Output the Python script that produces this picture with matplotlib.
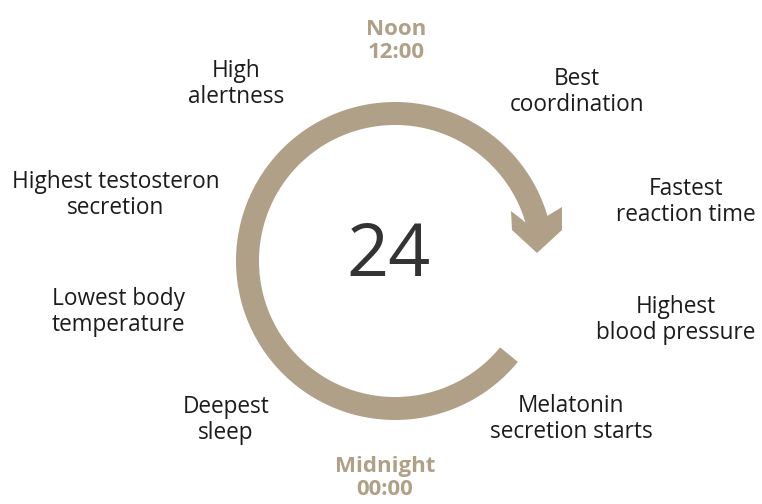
import numpy as np
import matplotlib
matplotlib.use("Agg")
import matplotlib.pyplot as plt
from matplotlib.patches import Polygon

plt.rcParams["font.family"] = ["Open Sans", "DejaVu Sans"]

TAN = "#b0a087"
INK = "#1c1c1c"

# circadian events, clockwise from noon
events = ["Best\ncoordination", "Fastest\nreaction time", "Highest\nblood pressure",
          "Melatonin\nsecretion starts", "Deepest\nsleep", "Lowest body\ntemperature",
          "Highest testosteron\nsecretion", "High\nalertness"]
event_xy = [(577, 92), (686, 202), (676, 320), (571, 419),
            (226, 420), (118, 312), (116, 195), (236, 84)]
marks = ["Noon\n12:00", "Midnight\n00:00"]
mark_xy = [(396, 41), (385, 478)]
center_label = "24"

# ring geometry (pixels)
cx, cy = 395, 261
r_in, r_out = 136, 159
a_end, a_start = 16.5, 320.6  # math degrees, arrow runs clockwise from a_start to a_end
tip = (537, 253)
head = [(-26, -42), (-25, -23), (0, 0), (25, -23), (25, -46)]

fig = plt.figure(figsize=(7.62, 5.04), dpi=100)
ax = fig.add_axes([0, 0, 1, 1])
ax.set_xlim(0, 762)
ax.set_ylim(504, 0)
ax.axis("off")

th = np.radians(np.linspace(a_end, a_start, 300))
outer = np.column_stack([cx + r_out * np.cos(th), cy - r_out * np.sin(th)])
inner = np.column_stack([cx + r_in * np.cos(th), cy - r_in * np.sin(th)])[::-1]
hd = np.array([(tip[0] + dx, tip[1] + dy) for dx, dy in head])
ax.add_patch(Polygon(np.vstack([outer, inner, hd]), closed=True, fc=TAN, ec="none"))

ax.text(388, 257, center_label, fontsize=53, color="#333333", ha="center", va="center")

for t, (x, y) in zip(events, event_xy):
    ax.text(x, y, t, fontsize=16.3, color=INK, ha="center", va="center", linespacing=1.15)
for t, (x, y) in zip(marks, mark_xy):
    ax.text(x, y, t, fontsize=16, color=TAN, ha="center", va="center",
            fontweight="bold", linespacing=1.15)

fig.savefig("out.png", dpi=100, facecolor="white")
